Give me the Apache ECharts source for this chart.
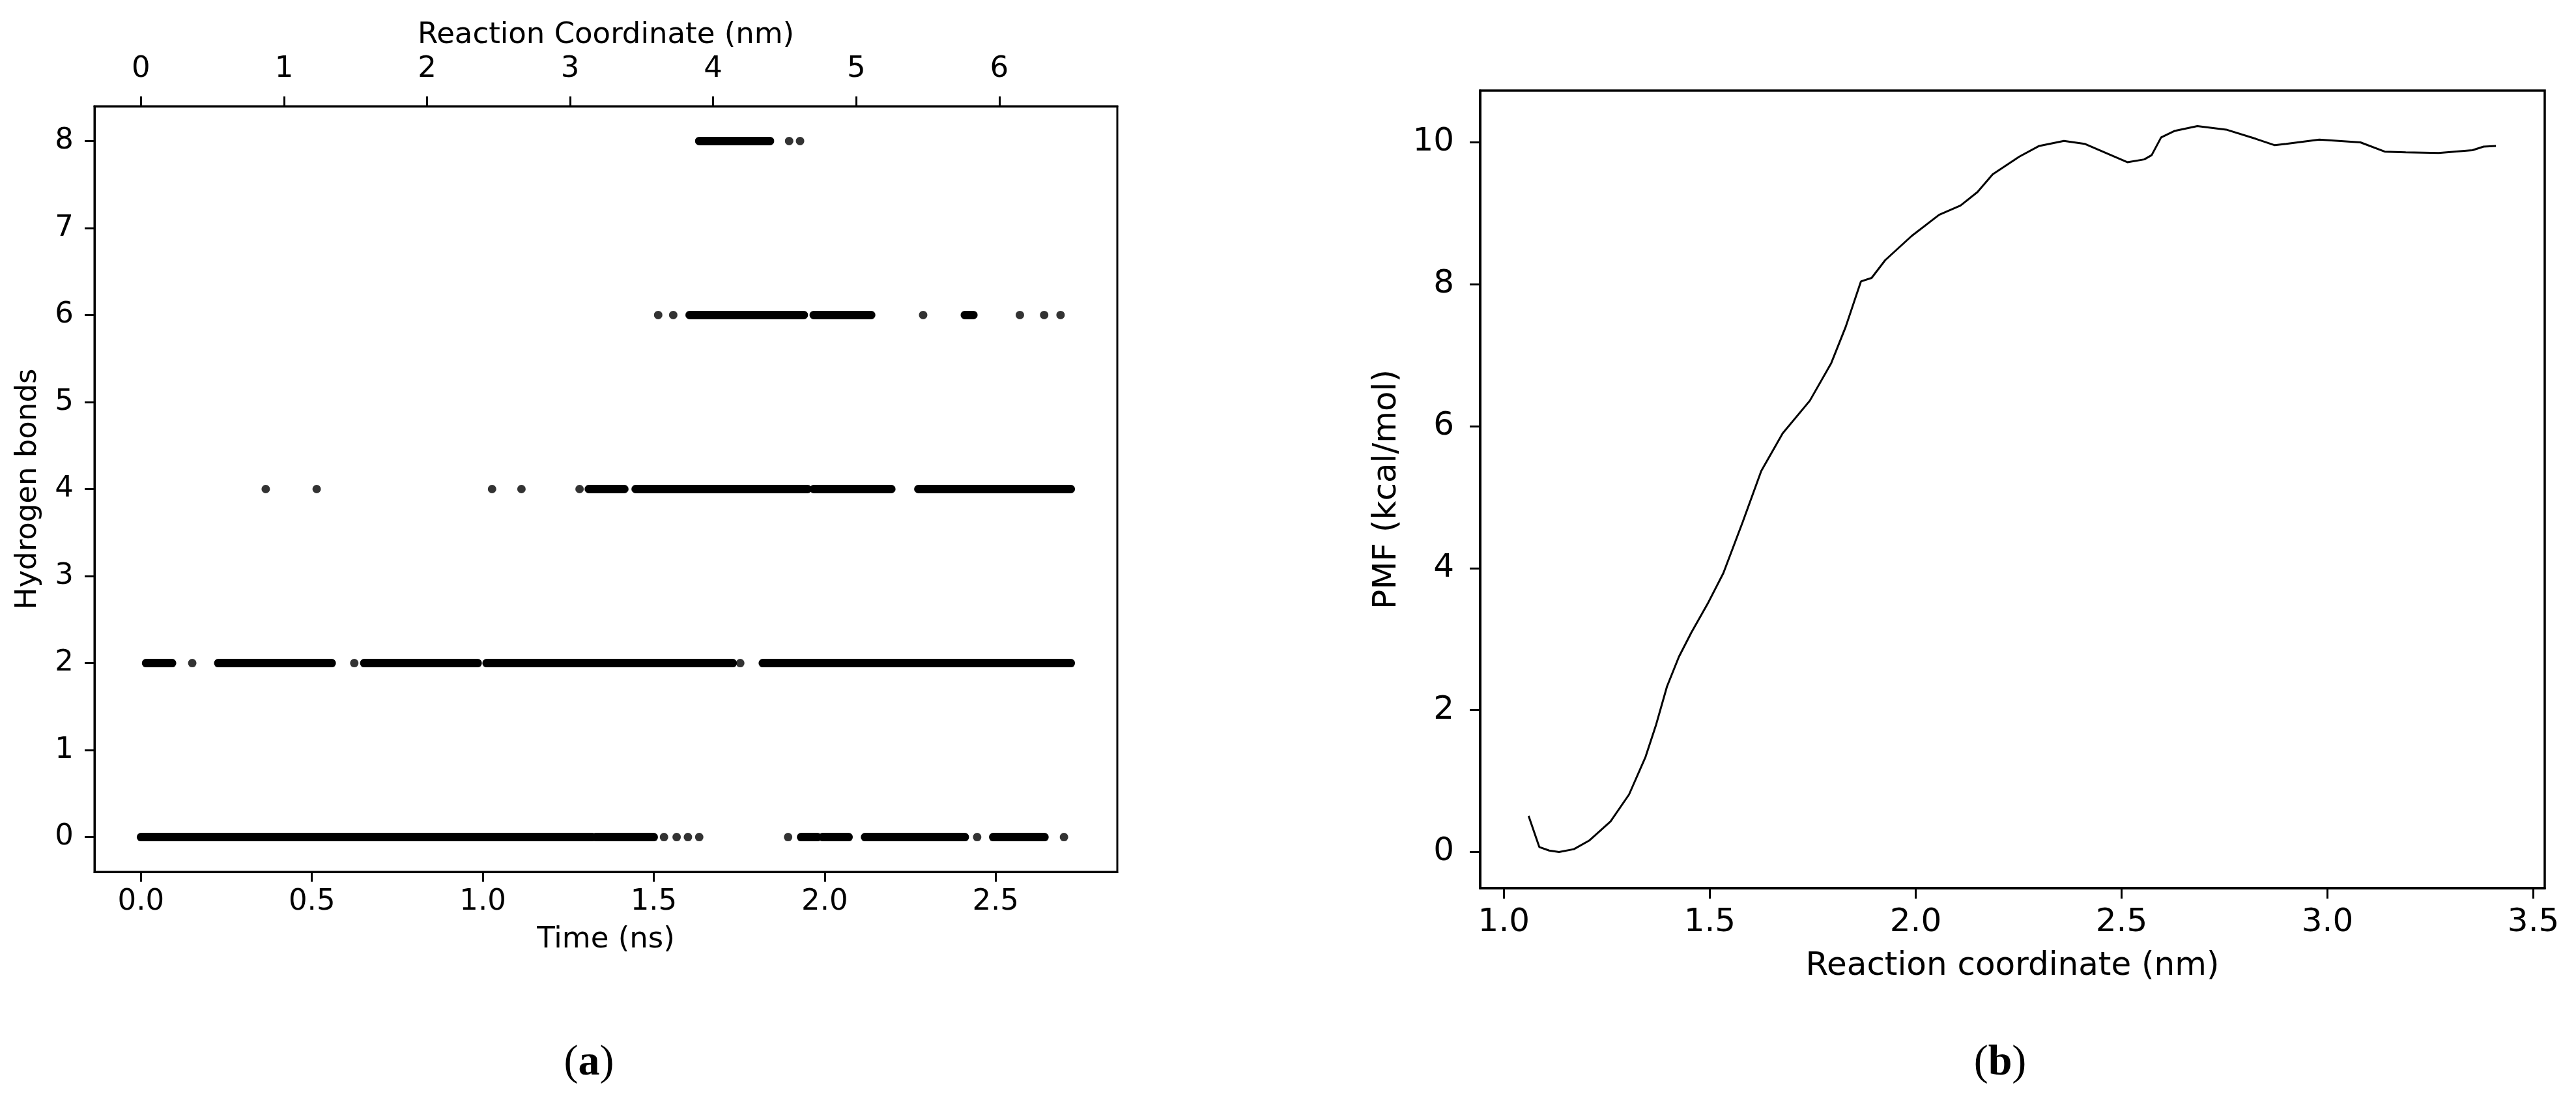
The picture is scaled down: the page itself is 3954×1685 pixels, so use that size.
<!DOCTYPE html>
<html>
<head>
<meta charset="utf-8">
<title>Hydrogen bonds / PMF</title>
<script src="https://cdn.jsdelivr.net/npm/echarts@6.0.0/dist/echarts.min.js"></script>
<style>
  html, body { margin: 0; padding: 0; background: #fff; }
  #chart { width: 3954px; height: 1685px; }
</style>
</head>
<body>
<div id="chart"></div>
<script>
// (a) Hydrogen bonds vs time. Dense stretches of points are kept as [start, end] (ns),
// lone points as single times.
var level0Runs = [[0.0, 1.32], [1.33, 1.50], [1.931, 1.979], [1.994, 2.07], [2.118, 2.41], [2.493, 2.643]];
var level0Dots = [1.53, 1.567, 1.60, 1.633, 1.893, 2.446, 2.70];
var level2Runs = [[0.015, 0.091], [0.226, 0.558], [0.653, 0.985], [1.011, 1.731], [1.819, 2.72]];
var level2Dots = [0.150, 0.624, 1.753];
var level4Runs = [[1.31, 1.414], [1.447, 1.95], [1.968, 2.195], [2.274, 2.72]];
var level4Dots = [0.365, 0.514, 1.027, 1.113, 1.283];
var level6Runs = [[1.605, 1.939], [1.968, 2.136], [2.41, 2.435]];
var level6Dots = [1.513, 1.557, 2.288, 2.571, 2.642, 2.690];
var level8Runs = [[1.633, 1.84]];
var level8Dots = [1.896, 1.928];

var timeTicks = [0, 0.5, 1.0, 1.5, 2.0, 2.5];
var coordTicks = [0, 1, 2, 3, 4, 5, 6];
var bondTicks = [0, 1, 2, 3, 4, 5, 6, 7, 8];

// (b) PMF along the reaction coordinate
var pmfX = [1.060, 1.086, 1.110, 1.134, 1.170, 1.207, 1.259, 1.304, 1.344, 1.370,
  1.396, 1.425, 1.455, 1.495, 1.533, 1.580, 1.625, 1.677, 1.743, 1.795,
  1.830, 1.867, 1.893, 1.926, 1.990, 2.057, 2.109, 2.150, 2.187, 2.252,
  2.300, 2.360, 2.410, 2.514, 2.555, 2.573, 2.596, 2.628, 2.684, 2.754,
  2.826, 2.872, 2.900, 2.980, 3.080, 3.139, 3.190, 3.270, 3.352, 3.379, 3.409];
var pmfY = [0.51, 0.07, 0.02, 0.00, 0.04, 0.16, 0.43, 0.81, 1.34, 1.80,
  2.33, 2.75, 3.09, 3.50, 3.93, 4.65, 5.37, 5.90, 6.36, 6.89,
  7.40, 8.04, 8.09, 8.34, 8.68, 8.98, 9.11, 9.30, 9.55, 9.80,
  9.95, 10.02, 9.98, 9.72, 9.76, 9.82, 10.07, 10.16, 10.23, 10.18,
  10.05, 9.96, 9.98, 10.04, 10.00, 9.87, 9.86, 9.85, 9.89, 9.94, 9.95];
var rcTicks = [1.0, 1.5, 2.0, 2.5, 3.0, 3.5];
var pmfTicks = [0, 2, 4, 6, 8, 10];

var allRuns = [[0, level0Runs], [2, level2Runs], [4, level4Runs], [6, level6Runs], [8, level8Runs]];
var allDots = [[0, level0Dots], [2, level2Dots], [4, level4Dots], [6, level6Dots], [8, level8Dots]];

var runData = [];
allRuns.forEach(function (g) {
  g[1].forEach(function (r) { runData.push([r[0], r[1], g[0]]); });
});
var dotData = [];
allDots.forEach(function (g) {
  g[1].forEach(function (t) { dotData.push([t, g[0]]); });
});
var pmfData = pmfX.map(function (x, i) { return [x, pmfY[i]]; });

var FONT = 'DejaVu Sans';
var DOT = 13;

function axisCommon(fontSize, lineWidth) {
  return {
    axisLine: { show: true, onZero: false, lineStyle: { color: '#000', width: lineWidth } },
    axisTick: { show: true, length: 15, lineStyle: { color: '#000', width: 3 } },
    splitLine: { show: false },
    nameTextStyle: { color: '#000', fontSize: fontSize, fontFamily: FONT },
    axisLabel: { color: '#000', fontSize: fontSize, fontFamily: FONT }
  };
}

function mkAxis(base, extra) {
  return echarts.util.merge(echarts.util.clone(base), extra, true);
}

var leftBase = axisCommon(45, 3);
var rightBase = axisCommon(50, 3.5);

var chartDom = document.getElementById('chart');
var myChart = echarts.init(chartDom);

var option = {
  animation: false,
  backgroundColor: '#fff',
  grid: [
    { left: 145, top: 163, width: 1570, height: 1175, show: true, borderColor: '#000', borderWidth: 3, backgroundColor: 'transparent' },
    { left: 2272, top: 139, width: 1634, height: 1224, show: true, borderColor: '#000', borderWidth: 3.5, backgroundColor: 'transparent' }
  ],
  xAxis: [
    mkAxis(leftBase, {
      type: 'value', gridIndex: 0, position: 'bottom',
      min: -0.136, max: 2.856,
      name: 'Time (ns)', nameLocation: 'middle', nameGap: 82,
      axisTick: { customValues: timeTicks },
      axisLabel: { customValues: timeTicks, margin: 24, formatter: function (v) { return v.toFixed(1); } }
    }),
    mkAxis(leftBase, {
      type: 'value', gridIndex: 0, position: 'top',
      min: -0.325, max: 6.825,
      name: 'Reaction Coordinate (nm)', nameLocation: 'middle', nameGap: 86,
      axisTick: { customValues: coordTicks },
      axisLabel: { customValues: coordTicks, margin: 34 }
    }),
    mkAxis(rightBase, {
      type: 'value', gridIndex: 1, position: 'bottom',
      min: 0.9425, max: 3.5275,
      name: 'Reaction coordinate (nm)', nameLocation: 'middle', nameGap: 95,
      axisTick: { customValues: rcTicks, length: 16 },
      axisLabel: { customValues: rcTicks, margin: 28, formatter: function (v) { return v.toFixed(1); } }
    })
  ],
  yAxis: [
    mkAxis(leftBase, {
      type: 'value', gridIndex: 0, position: 'left',
      min: -0.4, max: 8.4,
      name: 'Hydrogen bonds', nameLocation: 'middle', nameGap: 79,
      axisTick: { customValues: bondTicks },
      axisLabel: { customValues: bondTicks, margin: 32 }
    }),
    mkAxis(rightBase, {
      type: 'value', gridIndex: 1, position: 'left',
      min: -0.51, max: 10.73,
      name: 'PMF (kcal/mol)', nameLocation: 'middle', nameGap: 118,
      axisTick: { customValues: pmfTicks, length: 16 },
      axisLabel: { customValues: pmfTicks, margin: 40 }
    })
  ],
  series: [
    {
      // dense stretches of points drawn as round-capped strokes of dot width
      type: 'custom',
      xAxisIndex: 0,
      yAxisIndex: 0,
      data: runData,
      encode: { x: [0, 1], y: 2 },
      renderItem: function (params, api) {
        var a = api.coord([api.value(0), api.value(2)]);
        var b = api.coord([api.value(1), api.value(2)]);
        return {
          type: 'line',
          shape: { x1: a[0], y1: a[1], x2: b[0], y2: b[1] },
          style: { stroke: '#000', lineWidth: DOT, lineCap: 'round' }
        };
      }
    },
    {
      type: 'scatter',
      xAxisIndex: 0,
      yAxisIndex: 0,
      data: dotData,
      symbol: 'circle',
      symbolSize: DOT,
      itemStyle: { color: '#000' }
    },
    {
      type: 'line',
      xAxisIndex: 2,
      yAxisIndex: 1,
      data: pmfData,
      showSymbol: false,
      symbol: 'none',
      lineStyle: { color: '#000', width: 3 }
    }
  ],
  graphic: {
    elements: [
      {
        type: 'text', x: 904, y: 1632,
        style: {
          text: '{p|(}{b|a}{p|)}', align: 'center', verticalAlign: 'middle',
          rich: {
            p: { fontFamily: 'Liberation Serif', fontSize: 66, fill: '#000' },
            b: { fontFamily: 'Liberation Serif', fontSize: 66, fontWeight: 'bold', fill: '#000' }
          }
        }
      },
      {
        type: 'text', x: 3070, y: 1632,
        style: {
          text: '{p|(}{b|b}{p|)}', align: 'center', verticalAlign: 'middle',
          rich: {
            p: { fontFamily: 'Liberation Serif', fontSize: 66, fill: '#000' },
            b: { fontFamily: 'Liberation Serif', fontSize: 66, fontWeight: 'bold', fill: '#000' }
          }
        }
      }
    ]
  }
};

myChart.setOption(option);
window.addEventListener('resize', function () {
  myChart.resize();
});
</script>
</body>
</html>
